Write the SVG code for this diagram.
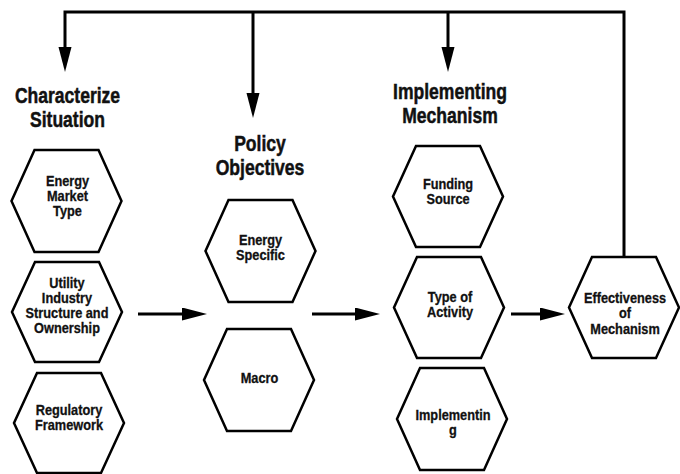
<svg xmlns="http://www.w3.org/2000/svg" xmlns:xlink="http://www.w3.org/1999/xlink" width="680" height="474" viewBox="0 0 680 474">
<style>
.hex{fill:#fff;stroke:#000;stroke-width:2.5;stroke-linejoin:miter}
.t{font-family:"Liberation Sans",Arial,sans-serif;font-weight:bold;font-size:14.5px;fill:#111;stroke:#111;stroke-width:0.3;text-anchor:middle}
.h{font-family:"Liberation Sans",Arial,sans-serif;font-weight:bold;font-size:22.5px;fill:#111;stroke:#111;stroke-width:0.5;text-anchor:middle}
.c{fill:none;stroke:#000;stroke-width:3}
</style>
<defs>
<polygon id="hex" points="-32,-51 32,-51 55,0 32,51 -32,51 -55,0"/>
<marker id="arr" markerUnits="userSpaceOnUse" markerWidth="26" markerHeight="14" refX="17" refY="6.5" orient="auto">
<path d="M0,0 L25,6.5 L0,13 Z" fill="#000"/>
</marker>
</defs>
<rect width="680" height="474" fill="#fff"/>

<g id="connectors">
<path class="c" d="M624,257 V12 H65 V64" marker-end="url(#arr)"/>
<path class="c" d="M253,12 V110" marker-end="url(#arr)"/>
<path class="c" d="M448,12 V64" marker-end="url(#arr)"/>
<path class="c" d="M138,314 H199" marker-end="url(#arr)"/>
<path class="c" d="M312,314 H372" marker-end="url(#arr)"/>
<path class="c" d="M511,314 H557" marker-end="url(#arr)"/>
</g>

<g id="title-characterize" transform="translate(67.5,0) scale(0.78,1)">
<text class="h" x="0" y="103">Characterize</text>
<text class="h" x="0" y="127">Situation</text>
</g>
<g id="title-policy" transform="translate(260,0) scale(0.78,1)">
<text class="h" x="0" y="151">Policy</text>
<text class="h" x="0" y="175">Objectives</text>
</g>
<g id="title-implementing" transform="translate(450,0) scale(0.78,1)">
<text class="h" x="0" y="99">Implementing</text>
<text class="h" x="0" y="123">Mechanism</text>
</g>

<g id="energy-market-type">
<use xlink:href="#hex" href="#hex" class="hex" transform="translate(66.5,201)"/>
<g transform="translate(67.5,0) scale(0.88,1)">
<text class="t" x="0" y="186">Energy</text>
<text class="t" x="0" y="201">Market</text>
<text class="t" x="0" y="216">Type</text>
</g>
</g>

<g id="utility-industry">
<use xlink:href="#hex" href="#hex" class="hex" transform="translate(67,312) scale(1,0.98)"/>
<g transform="translate(67,0) scale(0.88,1)">
<text class="t" x="0" y="288">Utility</text>
<text class="t" x="0" y="303">Industry</text>
<text class="t" x="0" y="318">Structure and</text>
<text class="t" x="0" y="333">Ownership</text>
</g>
</g>

<g id="regulatory-framework">
<use xlink:href="#hex" href="#hex" class="hex" transform="translate(69,423) scale(1,0.98)"/>
<g transform="translate(69,0) scale(0.88,1)">
<text class="t" x="0" y="415">Regulatory</text>
<text class="t" x="0" y="430">Framework</text>
</g>
</g>

<g id="energy-specific">
<use xlink:href="#hex" href="#hex" class="hex" transform="translate(260.5,251)"/>
<g transform="translate(260.5,0) scale(0.88,1)">
<text class="t" x="0" y="245">Energy</text>
<text class="t" x="0" y="260">Specific</text>
</g>
</g>

<g id="macro">
<use xlink:href="#hex" href="#hex" class="hex" transform="translate(259,380)"/>
<g transform="translate(259.5,0) scale(0.88,1)">
<text class="t" x="0" y="383">Macro</text>
</g>
</g>

<g id="funding-source">
<use xlink:href="#hex" href="#hex" class="hex" transform="translate(448,196.5) scale(1,0.99)"/>
<g transform="translate(448,0) scale(0.88,1)">
<text class="t" x="0" y="189">Funding</text>
<text class="t" x="0" y="204">Source</text>
</g>
</g>

<g id="type-of-activity">
<use xlink:href="#hex" href="#hex" class="hex" transform="translate(449,307.5) scale(1,0.99)"/>
<g transform="translate(450,0) scale(0.88,1)">
<text class="t" x="0" y="302">Type of</text>
<text class="t" x="0" y="317">Activity</text>
</g>
</g>

<g id="implementing">
<use xlink:href="#hex" href="#hex" class="hex" transform="translate(452,419)"/>
<g transform="translate(453,0) scale(0.88,1)">
<text class="t" x="0" y="420">Implementin</text>
<text class="t" x="0" y="435">g</text>
</g>
</g>

<g id="effectiveness">
<use xlink:href="#hex" href="#hex" class="hex" transform="translate(624,307.5) scale(1,0.99)"/>
<g transform="translate(625,0) scale(0.88,1)">
<text class="t" x="0" y="303">Effectiveness</text>
<text class="t" x="0" y="318">of</text>
<text class="t" x="0" y="334">Mechanism</text>
</g>
</g>
</svg>
